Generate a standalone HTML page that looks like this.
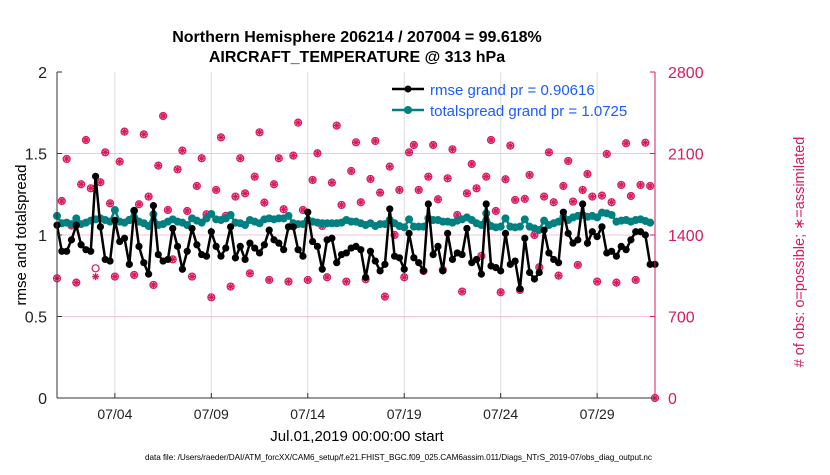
<!DOCTYPE html>
<html><head><meta charset="utf-8"><style>
body{margin:0;background:#fff;width:830px;height:470px;overflow:hidden}
svg{font-family:"Liberation Sans",Arial,sans-serif}
</style></head><body>
<svg id="chart" width="830" height="470" viewBox="0 0 830 470" xmlns="http://www.w3.org/2000/svg">
<g id="grid"></g>
<g id="marks"></g>
<g id="axes"></g>
<text x="357" y="42" text-anchor="middle" font-size="16" font-weight="bold">Northern Hemisphere 206214 / 207004 = 99.618%</text>
<text x="357" y="62" text-anchor="middle" font-size="16" font-weight="bold">AIRCRAFT_TEMPERATURE @ 313 hPa</text>
<text transform="translate(26,235) rotate(-90)" text-anchor="middle" font-size="15">rmse and totalspread</text>
<text transform="translate(804,252) rotate(-90)" text-anchor="middle" font-size="14.5" fill="#d81b60">#  of obs: o=possible; ∗=assimilated</text>
<text x="357" y="441" text-anchor="middle" font-size="15">Jul.01,2019 00:00:00 start</text>
<text x="145" y="460" font-size="8.2" textLength="507">data file: /Users/raeder/DAI/ATM_forcXX/CAM6_setup/f.e21.FHIST_BGC.f09_025.CAM6assim.011/Diags_NTrS_2019-07/obs_diag_output.nc</text>
<g>
<line x1="392" y1="89" x2="424" y2="89" stroke="#000" stroke-width="2.5"/><circle cx="408" cy="89" r="3.5" fill="#000"/>
<text x="430" y="95" font-size="15" fill="#1a5cff">rmse grand pr = 0.90616</text>
<line x1="392" y1="110" x2="424" y2="110" stroke="#008080" stroke-width="2.5"/><circle cx="408" cy="110" r="4" fill="#008080"/>
<text x="430" y="116" font-size="15" fill="#1a5cff">totalspread grand pr = 1.0725</text>
</g>
</svg>
<script>
const dayTicks=[3,8,13,18,23,28];
const dayLabels=["07/04","07/09","07/14","07/19","07/24","07/29"];
const leftTicks=[0,0.5,1,1.5,2];
const rightTicks=[0,700,1400,2100,2800];
const rmse=[1.06,0.90,0.90,0.97,1.06,0.94,0.91,0.90,1.36,1.05,0.85,0.84,1.09,0.96,0.98,0.82,1.15,0.93,0.83,0.76,1.18,0.88,0.84,0.85,1.04,0.93,0.79,0.90,1.04,0.94,0.88,0.87,1.02,0.93,0.87,0.92,1.05,0.86,0.93,0.85,0.95,0.92,0.89,0.94,1.03,0.97,0.95,0.91,1.05,1.05,0.91,0.87,1.14,0.96,0.93,0.79,0.97,0.98,0.83,0.88,0.89,0.92,
0.93,0.91,0.74,0.90,0.84,0.78,0.82,1.16,0.87,0.86,0.79,1.01,0.86,0.83,0.78,1.19,0.88,0.93,0.78,1.01,0.85,0.89,0.88,1.04,0.83,0.85,0.76,1.19,0.81,0.80,0.78,1.01,0.82,0.84,0.67,0.98,0.77,0.73,0.77,1.03,0.89,0.85,0.83,1.14,1.01,0.95,0.97,1.19,0.95,1.02,0.99,1.05,0.89,0.90,0.87,0.93,0.91,0.97,1.02,1.02,1.00,0.82,0.82];
const spreadZ1=[348,370,368,372,355,372,368,362,358,355,360,365,330,365,368,360,332,365,370,378,343,375,372,365,358,365,368,375,355,362,368,355,342,358,360,355,345,368,370,375,360,365,370,358,355,358,355,355,348,370,372,372,360,365,368,370,370,370,370,368,360,365];
const spreadZ2=[365,370,375,370,378,372,372,360,370,378,382,358,380,380,380,355,360,360,365,365,368,362,358,352,360,370,375,340,378,382,380,355,380,382,380,358,380,385,390,362,375,370,365,350,360,352,348,345,350,348,352,338,340,345,365,362,360,365,360,358,363,368];
const spread=spreadZ1.concat(spreadZ2).map(z=>+((298-z/3)/163).toFixed(3));
const assimilated=[1028,1692,2053,1481,991,1836,2216,1801,1043,1853,2110,1672,1043,2030,2288,1529,1057,1664,2265,1730,971,1996,2422,1615,1191,1964,2125,1606,1043,1821,2059,1578,865,1787,2239,1564,957,1730,2059,1758,1071,1901,2282,1678,1014,1836,2059,1621,1000,2082,2365,1615,1014,1873,2102,1478,1037,1850,2340,1658,1000,1950,
2196,1681,1020,1881,2208,1764,871,1987,1400,1787,1037,2110,2173,1787,1091,1901,2173,1707,1100,1887,2136,1572,914,1758,2010,1801,1220,1901,2216,1606,908,1879,2168,1701,928,1710,1916,1400,1123,1730,2110,1681,1051,1821,2036,1687,1143,1787,1924,1730,1000,1738,2096,1681,991,1830,2188,1735,1014,1830,2193,1821,0];
const possible=assimilated.map((v,i)=>i===8?1114:v);

const X0=57,X1=655,Y0=398,Y1=72,ND=31;
const xs=d=>X0+(X1-X0)*d/ND;
const yl=v=>Y0-(Y0-Y1)*v/2;
const yr=v=>Y0-(Y0-Y1)*v/2800;
const tday=i=>i*0.25;
const NS="http://www.w3.org/2000/svg";
function mk(tag,parent,attrs){const e=document.createElementNS(NS,tag);for(const k in attrs)e.setAttribute(k,attrs[k]);parent.appendChild(e);return e;}
const grid=document.getElementById('grid'),marks=document.getElementById('marks'),axes=document.getElementById('axes');
dayTicks.forEach((d,i)=>{
 const g=mk('line',grid,{x1:xs(d),x2:xs(d),y1:Y1,y2:Y0,stroke:'#ddd','stroke-width':1});
 
 
 const t=mk('line',axes,{x1:xs(d),x2:xs(d),y1:Y0,y2:Y0-5,stroke:'#333'});
 
 
 const l=mk('text',axes,{x:xs(d),y:Y0+21,'text-anchor':'middle','font-size':14,fill:'#222'});
 l.textContent=dayLabels[i];
 
 
});
rightTicks.forEach(v=>{
 if(v>0&&v<2800){const g=mk('line',grid,{x1:X0,x2:X1,y1:yr(v),y2:yr(v),stroke:'#f5c6d6','stroke-width':1});
 
 }
 const l=mk('text',axes,{x:X1+13,y:yr(v)+6,'font-size':16,fill:'#d81b60'});
 l.textContent=v;
 
 
 const t=mk('line',axes,{x1:X1,x2:X1-5,y1:yr(v),y2:yr(v),stroke:'#d81b60'});
 
 
});
leftTicks.forEach(v=>{
 const l=mk('text',axes,{x:X0-10,y:yl(v)+6,'text-anchor':'end','font-size':16,fill:'#222'});
 l.textContent=v;
 
 
 const t=mk('line',axes,{x1:X0,x2:X0+5,y1:yl(v),y2:yl(v),stroke:'#333'});
 
 
});
let a=mk('line',axes,{x1:X0,x2:X0,y1:Y1,y2:Y0,stroke:'#333'});


a=mk('line',axes,{x1:X0,x2:X1,y1:Y0,y2:Y0,stroke:'#333'});


a=mk('line',axes,{x1:X1,x2:X1,y1:Y1,y2:Y0,stroke:'#d81b60'});


possible.forEach((v,i)=>{
 const c=mk('circle',marks,{cx:xs(tday(i)),cy:yr(v),r:3.5,fill:'none',stroke:'#d81b60','stroke-width':1.2});
 
 
});
assimilated.forEach((v,i)=>{
 const x=xs(tday(i)),y=yr(v);
 const s=mk('path',marks,{d:`M${x-3.5},${y}H${x+3.5}M${x},${y-3.5}V${y+3.5}M${x-2.5},${y-2.5}L${x+2.5},${y+2.5}M${x-2.5},${y+2.5}L${x+2.5},${y-2.5}`,stroke:'#d81b60','stroke-width':1.3});
 
 
});
let p=mk('polyline',marks,{points:spread.map((v,i)=>xs(tday(i))+','+yl(v)).join(' '),fill:'none',stroke:'#008080','stroke-width':2.5});


spread.forEach((v,i)=>{
 const c=mk('circle',marks,{cx:xs(tday(i)),cy:yl(v),r:4,fill:'#008080'});
 
 
});
p=mk('polyline',marks,{points:rmse.map((v,i)=>xs(tday(i))+','+yl(v)).join(' '),fill:'none',stroke:'#000','stroke-width':2.5});


rmse.forEach((v,i)=>{
 const c=mk('circle',marks,{cx:xs(tday(i)),cy:yl(v),r:3.6,fill:'#000'});
 
 
});
</script>
</body></html>
